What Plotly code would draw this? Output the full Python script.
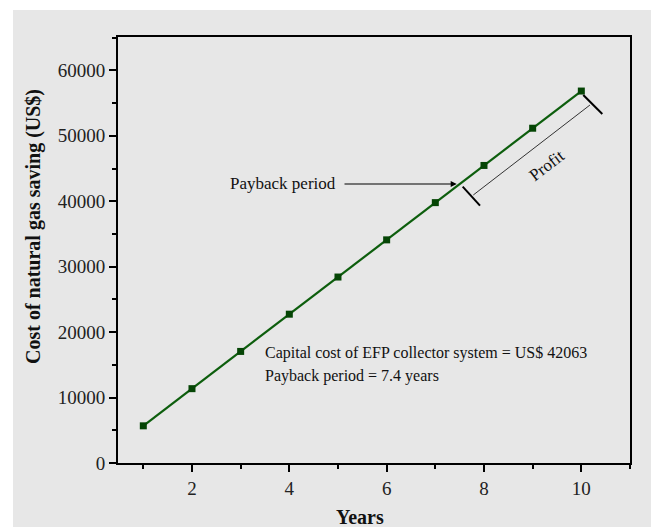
import plotly.graph_objects as go

years = [1, 2, 3, 4, 5, 6, 7, 8, 9, 10]
savings = [5680, 11360, 17050, 22740, 28420, 34100, 39790, 45470, 51160, 56840]
x_ticks = [2, 4, 6, 8, 10]
y_ticks = [0, 10000, 20000, 30000, 40000, 50000, 60000]
y_tick_text = ["0", "10000", "20000", "30000", "40000", "50000", "60000"]

FONT = "Liberation Serif, Times New Roman, serif"
GRAY = "#e7e7e7"
LINE = "#0d5e0d"
MARK = "#054505"

fig = go.Figure()
fig.add_trace(go.Scatter(
    x=years, y=savings, mode="lines+markers",
    line=dict(color=LINE, width=2.2),
    marker=dict(symbol="square", size=7, color=MARK),
    showlegend=False, hoverinfo="x+y",
))

axis_common = dict(
    showline=True, linecolor="black", linewidth=2, mirror=True,
    ticks="outside", ticklen=7, tickwidth=2, tickcolor="black",
    showgrid=False, zeroline=False,
    tickfont=dict(family=FONT, size=19, color="#222"),
)

fig.update_xaxes(range=[0.48, 11.0], tickvals=x_ticks,
                 minor=dict(dtick=1, tick0=0, ticks="outside", ticklen=4, tickwidth=2, tickcolor="black"),
                 **axis_common)
fig.update_yaxes(range=[0, 65100], tickvals=y_ticks, ticktext=y_tick_text,
                 minor=dict(dtick=5000, tick0=0, ticks="outside", ticklen=4, tickwidth=2, tickcolor="black"),
                 **axis_common)

PW = 651 - 118 - 21
PH = 527 - 37 - 64
shapes = [
    # white strips at top and left of the page
    dict(type="rect", xref="paper", yref="paper", x0=-0.3, x1=1.2, y0=(463 - 10) / PH, y1=1.3,
         fillcolor="white", line=dict(width=0), layer="below"),
    dict(type="rect", xref="paper", yref="paper", x0=-0.3, x1=(13 - 118) / PW, y0=-0.3, y1=1.3,
         fillcolor="white", line=dict(width=0), layer="below"),
    # profit dimension line
    dict(type="line", xref="x", yref="y", x0=7.780, y0=40956, x1=10.178, y1=54710,
         line=dict(color="#333", width=1)),
    dict(type="line", xref="x", yref="y", x0=7.562, y0=42224, x1=7.918, y1=39320,
         line=dict(color="black", width=2)),
    dict(type="line", xref="x", yref="y", x0=10.040, y0=56238, x1=10.431, y1=53334,
         line=dict(color="black", width=2)),
]

annotations = [
    dict(x=7.439, y=42637, ax=5.103, ay=42637, xref="x", yref="y", axref="x", ayref="y",
         text="", showarrow=True, arrowhead=2, arrowsize=1, arrowwidth=1.2, arrowcolor="black"),
    dict(x=0.48 + (228 - 118) / 48.67, y=42637, xref="x", yref="y", text="Payback period", showarrow=False,
         xanchor="left", yanchor="middle", font=dict(family=FONT, size=17, color="#111")),
    dict(x=9.288, y=45540, xref="x", yref="y", text="Profit", showarrow=False, textangle=-37.3,
         xanchor="center", yanchor="middle", font=dict(family=FONT, size=17, color="#111")),
    dict(x=3.465, y=16810, xref="x", yref="y", text="Capital cost of EFP collector system = US$ 42063",
         showarrow=False, xanchor="left", yanchor="middle", font=dict(family=FONT, size=16, color="#111")),
    dict(x=3.465, y=13295, xref="x", yref="y", text="Payback period = 7.4 years",
         showarrow=False, xanchor="left", yanchor="middle", font=dict(family=FONT, size=16, color="#111")),
    dict(x=(33 - 118) / PW, y=(463 - 227) / PH, xref="paper", yref="paper",
         text="<b>Cost of natural gas saving (US$)</b>", textangle=-90, showarrow=False,
         xanchor="center", yanchor="middle", font=dict(family=FONT, size=20, color="#111")),
    dict(x=(360 - 118) / PW, y=(463 - 517) / PH, xref="paper", yref="paper", text="<b>Years</b>",
         showarrow=False, xanchor="center", yanchor="middle", font=dict(family=FONT, size=20, color="#111")),
]

fig.update_layout(
    width=651, height=527,
    margin=dict(l=118, r=21, t=37, b=64),
    paper_bgcolor=GRAY, plot_bgcolor=GRAY,
    shapes=shapes, annotations=annotations,
)

fig.write_html(
    "out.html",
    post_script=(
        "document.documentElement.style.background='%s';"
        "document.body.style.background='%s';"
        "document.body.style.margin='0';"
        "document.body.style.overflow='hidden';" % (GRAY, GRAY)
    ),
)
